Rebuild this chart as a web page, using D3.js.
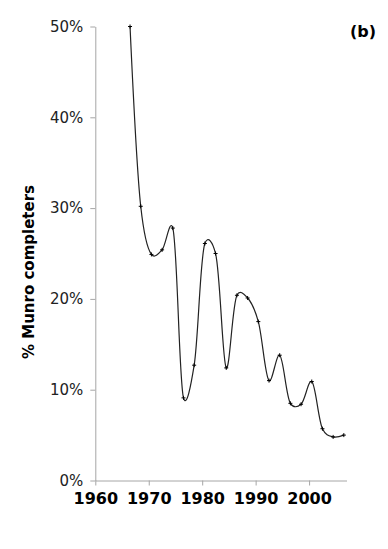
<!DOCTYPE html>
<html>
<head>
<meta charset="utf-8">
<script src="https://cdn.jsdelivr.net/npm/d3@7"></script>
<style>
  body { margin: 0; background: #fff; }
  svg text { font-family: "DejaVu Sans", Verdana, sans-serif; }
</style>
</head>
<body>
<div id="chart"></div>
<script>
// data (2-year bins)
var years = [1966.5, 1968.5, 1970.5, 1972.5, 1974.5, 1976.5, 1978.5, 1980.5, 1982.5, 1984.5,
             1986.5, 1988.5, 1990.5, 1992.5, 1994.5, 1996.5, 1998.5, 2000.5, 2002.5, 2004.5, 2006.5];
var pctCompleters = [0.500, 0.302, 0.249, 0.254, 0.278, 0.091, 0.127, 0.261, 0.250, 0.124,
                     0.204, 0.201, 0.175, 0.110, 0.138, 0.085, 0.084, 0.109, 0.057, 0.048, 0.050];
var xTicks = [1960, 1970, 1980, 1990, 2000];
var yTicks = [0, 0.1, 0.2, 0.3, 0.4, 0.5];

var width = 388, height = 549;
var margin = {top: 26.5, right: 41.5, bottom: 68.5, left: 95.3};

var svg = d3.select("#chart").append("svg")
    .attr("width", width)
    .attr("height", height);

var x = d3.scaleLinear().domain([1960, 2007]).range([margin.left, width - margin.right]);
var y = d3.scaleLinear().domain([0, 0.5]).range([height - margin.bottom, margin.top]);

// y axis
var yAxis = svg.append("g")
    .attr("transform", "translate(" + margin.left + ",0)")
    .call(d3.axisLeft(y).tickValues(yTicks).tickFormat(d3.format(".0%")).tickSize(5).tickSizeOuter(0).tickPadding(7));
yAxis.selectAll("path, line").attr("stroke", "#a6a6a6");
yAxis.selectAll("text").attr("font-size", 15).attr("fill", "#222")
    .style("font-family", "DejaVu Sans, Verdana, sans-serif");

// x axis
var xAxis = svg.append("g")
    .attr("transform", "translate(0," + (height - margin.bottom) + ")")
    .call(d3.axisBottom(x).tickValues(xTicks).tickFormat(d3.format("d")).tickSize(5).tickSizeOuter(0).tickPadding(7));
xAxis.selectAll("path, line").attr("stroke", "#a6a6a6");
xAxis.selectAll("text").attr("font-size", 16).attr("font-weight", "bold").attr("fill", "#000")
    .style("font-family", "DejaVu Sans, Verdana, sans-serif");

// smoothed line
var line = d3.line()
    .x(function(d, i) { return x(years[i]); })
    .y(function(d) { return y(d); })
    .curve(d3.curveCatmullRom.alpha(0.2));

svg.append("path")
    .datum(pctCompleters)
    .attr("fill", "none")
    .attr("stroke", "#222")
    .attr("stroke-width", 1.2)
    .attr("d", line);

// small plus markers
svg.selectAll(".mark")
    .data(pctCompleters)
    .enter().append("path")
    .attr("class", "mark")
    .attr("transform", function(d, i) { return "translate(" + x(years[i]) + "," + y(d) + ")"; })
    .attr("d", "M-2,0H2M0,-2V2")
    .attr("stroke", "#000")
    .attr("stroke-width", 1);

// y title
svg.append("text")
    .attr("transform", "translate(34,272) rotate(-90)")
    .attr("text-anchor", "middle")
    .attr("font-size", 15)
    .attr("font-weight", "bold")
    .text("% Munro completers");

// panel label
svg.append("text")
    .attr("x", 376)
    .attr("y", 37)
    .attr("text-anchor", "end")
    .attr("font-size", 16)
    .attr("font-weight", "bold")
    .text("(b)");
</script>
</body>
</html>
